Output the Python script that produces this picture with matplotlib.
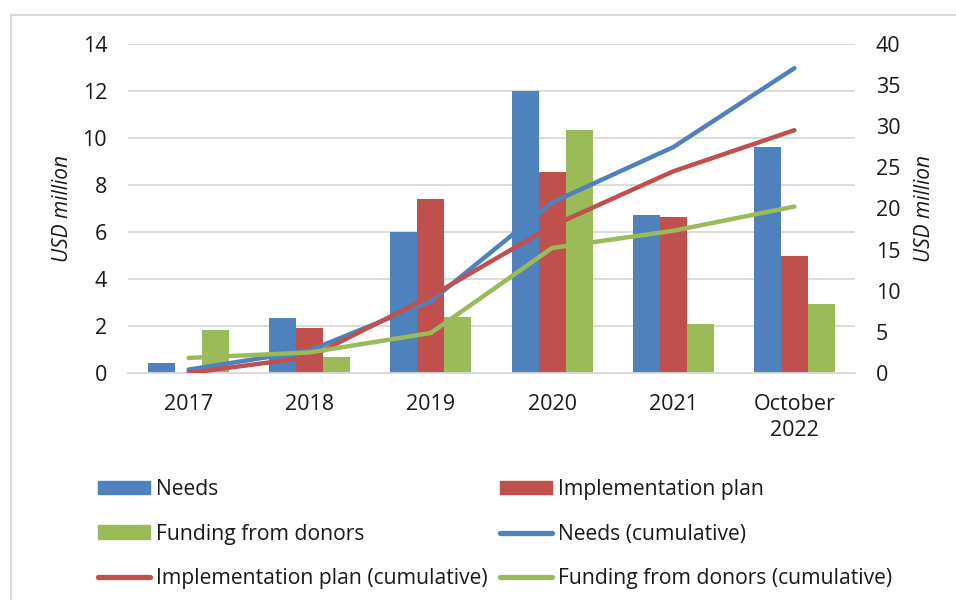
import matplotlib
matplotlib.use("Agg")
import matplotlib.pyplot as plt
import numpy as np
from matplotlib.patches import Rectangle, Patch
from matplotlib.lines import Line2D

plt.rcParams['font.family'] = ['Open Sans', 'DejaVu Sans']

categories = ["2017", "2018", "2019", "2020", "2021", "October\n2022"]

needs = [0.41, 2.33, 6.0, 12.0, 6.72, 9.6]
implementation = [0.0, 1.93, 7.4, 8.55, 6.64, 5.0]
funding = [1.83, 0.67, 2.37, 10.33, 2.09, 2.95]

needs_cum = [0.41, 2.74, 8.74, 20.74, 27.46, 37.06]
implementation_cum = [0.0, 1.93, 9.33, 17.88, 24.52, 29.52]
funding_cum = [1.83, 2.50, 4.87, 15.20, 17.29, 20.24]

BLUE = "#4f81bd"
RED = "#c0504d"
GREEN = "#9bbb59"
GRID = "#d9d9d9"
TEXT = "#1a1a1a"
FS = 15.5
LEG_FS = 15.2

fig = plt.figure(figsize=(9.56, 6.0), dpi=100)
W, H = 956, 600

# outer frame
fig.patches.append(Rectangle((11 / W, -0.05), 1.1, 1 - 15 / H + 0.05,
                             transform=fig.transFigure, fill=False,
                             edgecolor=GRID, linewidth=1.5))

ax = fig.add_axes([128 / W, 1 - 373 / H, (855 - 128) / W, (373 - 44) / H])
ax2 = ax.twinx()

x = np.arange(len(categories))
bw = 0.223
ax.bar(x - bw, needs, bw, color=BLUE, label="Needs", zorder=2)
ax.bar(x, implementation, bw, color=RED, label="Implementation plan", zorder=2)
ax.bar(x + bw, funding, bw, color=GREEN, label="Funding from donors", zorder=2)

lw = 3.2
ax2.plot(x, needs_cum, color=BLUE, lw=lw, solid_capstyle='round',
         solid_joinstyle='round', label="Needs (cumulative)")
ax2.plot(x, implementation_cum, color=RED, lw=lw, solid_capstyle='round',
         solid_joinstyle='round', label="Implementation plan (cumulative)")
ax2.plot(x, funding_cum, color=GREEN, lw=lw, solid_capstyle='round',
         solid_joinstyle='round', label="Funding from donors (cumulative)")

ax.set_xlim(-0.5, len(categories) - 0.5)
ax.set_ylim(0, 14)
ax.set_yticks(np.arange(0, 15, 2))
ax2.set_ylim(0, 40)
ax2.set_yticks(np.arange(0, 41, 5))

ax.yaxis.grid(True, color=GRID, linewidth=1.3, zorder=0)
ax.set_axisbelow(True)
for a in (ax, ax2):
    for s in a.spines.values():
        s.set_visible(False)
ax.spines['bottom'].set_visible(True)
ax.spines['bottom'].set_color(GRID)
ax.spines['bottom'].set_linewidth(1.3)

ax.set_xticks(x)
ax.set_xticklabels(categories, fontsize=FS, color=TEXT, linespacing=1.3)
ax.tick_params(axis='x', length=0, pad=15)
ax.tick_params(axis='y', length=0, pad=15, labelsize=FS, labelcolor=TEXT)
ax2.tick_params(axis='y', length=0, pad=15, labelsize=FS, labelcolor=TEXT)

ax.set_ylabel("USD million", fontsize=15, style='italic', color=TEXT, labelpad=7)
ax2.set_ylabel("USD million", fontsize=15, style='italic', color=TEXT, labelpad=10)

# legend: two columns below the plot
col1 = [
    Patch(color=BLUE, label="Needs"),
    Patch(color=GREEN, label="Funding from donors"),
    Line2D([], [], color=RED, lw=3.8, solid_capstyle='round',
           label="Implementation plan (cumulative)"),
]
col2 = [
    Patch(color=RED, label="Implementation plan"),
    Line2D([], [], color=BLUE, lw=3.8, solid_capstyle='round', label="Needs (cumulative)"),
    Line2D([], [], color=GREEN, lw=3.8, solid_capstyle='round',
           label="Funding from donors (cumulative)"),
]
px = LEG_FS * 100 / 72
legend_kw = dict(loc='upper left', frameon=False, fontsize=LEG_FS, handlelength=52 / px,
                 handleheight=13 / px, handletextpad=6 / px, labelspacing=1.12,
                 borderpad=0, borderaxespad=0)
for items, x0 in ((col1, 98), (col2, 500)):
    leg = fig.legend(handles=items, bbox_to_anchor=(x0 / W, 1 - 479 / H), **legend_kw)
    for t in leg.get_texts():
        t.set_color(TEXT)

fig.savefig("out.png", dpi=100, facecolor="white")
